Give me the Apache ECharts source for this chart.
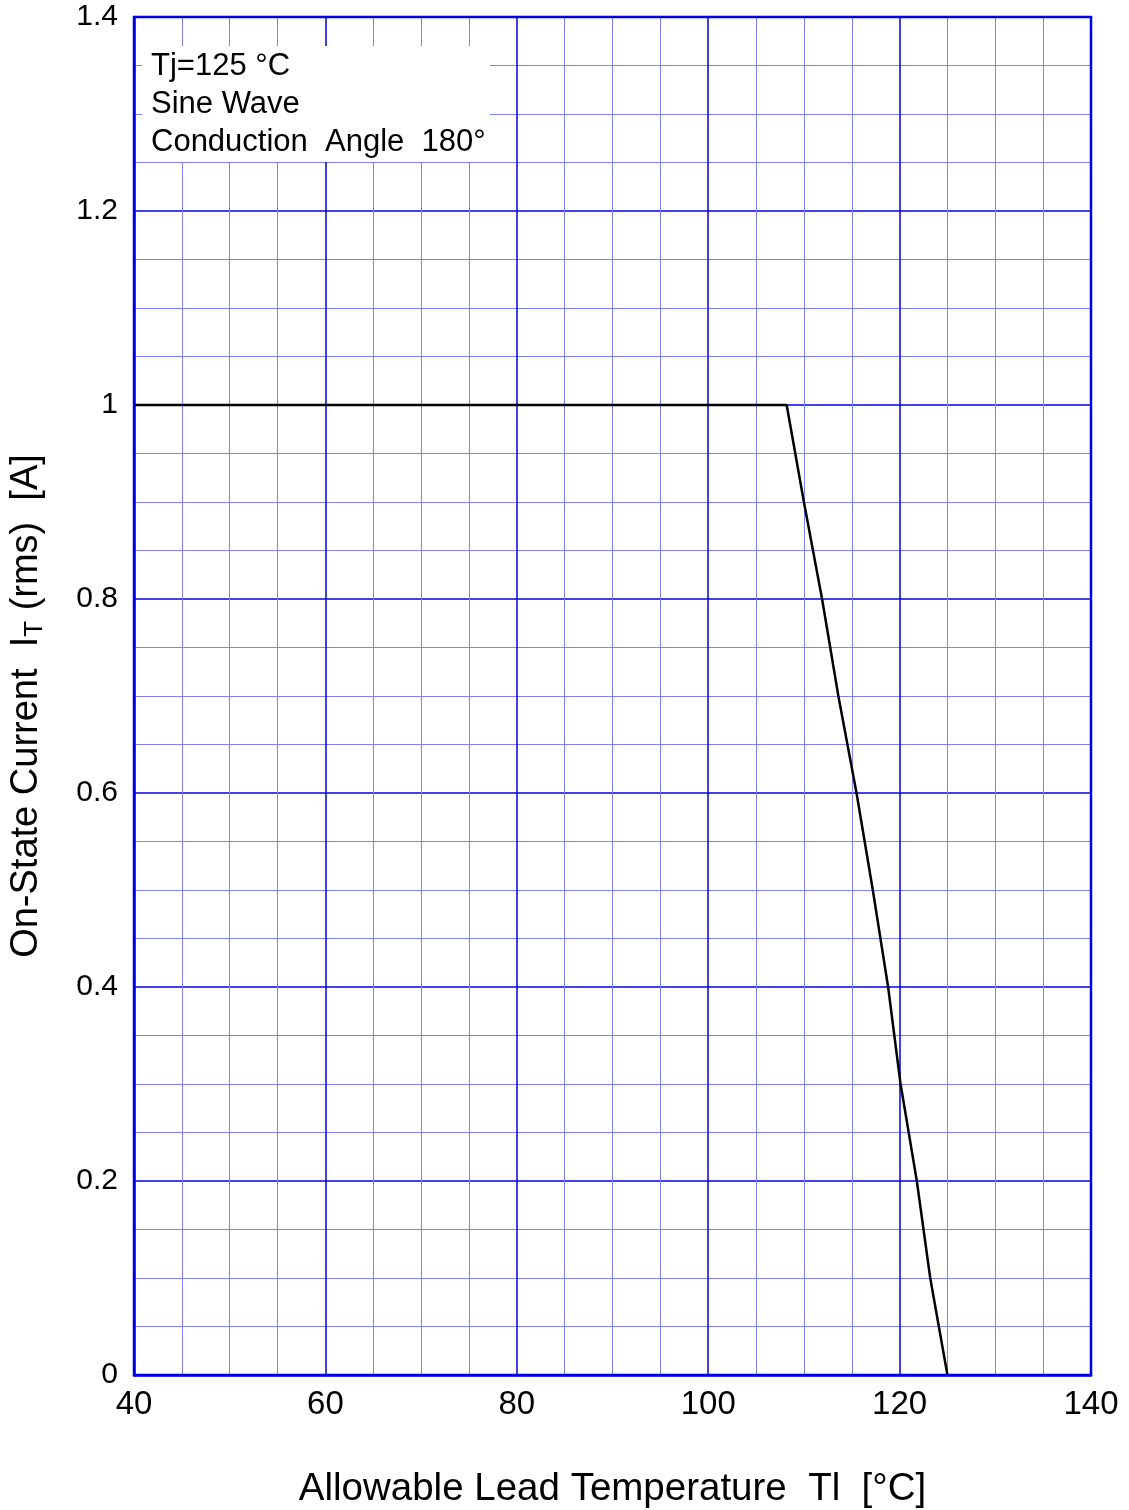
<!DOCTYPE html>
<html>
<head>
<meta charset="utf-8">
<script src="https://cdn.jsdelivr.net/npm/echarts@6/dist/echarts.min.js"></script>
<style>
    html, body {margin: 0; padding: 0; background: #fff;}
    #chart {width: 1129px; height: 1510px;}
</style>
</head>
<body>
<div id="chart"></div>
<script>
    // derating curve
    var temps = [40, 108.2, 110, 111.9, 113.6, 115.5, 117.2, 118.8, 120.1, 121.8, 123.2, 125];
    var currents = [1, 1, 0.9, 0.8, 0.7, 0.6, 0.5, 0.4, 0.3, 0.2, 0.1, 0];
    var noteLines = ["Tj=125 °C", "Sine Wave", "Conduction  Angle  180°"];

    var majorColor = "#0000e6";
    var minorColor = "#8080ff";

    var chart = echarts.init(document.getElementById("chart"));

    var points = [];
    for (var i = 0; i < temps.length; i++) {
        points.push([temps[i], currents[i]]);
    }

    var option = {
        animation: false,
        backgroundColor: "#fff",
        grid: {left: 134, right: 38, top: 17, bottom: 135, containLabel: false, outerBoundsMode: "none"},
        xAxis: {
            type: "value",
            min: 40,
            max: 140,
            interval: 20,
            name: "Allowable Lead Temperature  Tl  [°C]",
            nameLocation: "middle",
            nameGap: 95,
            nameTextStyle: {fontFamily: "Liberation Sans", fontSize: 38.5, color: "#000"},
            axisLine: {show: true, lineStyle: {color: majorColor, width: 2.5}},
            axisTick: {show: false},
            axisLabel: {fontFamily: "Liberation Sans", fontSize: 33, color: "#000", margin: 13},
            splitLine: {show: true, lineStyle: {color: majorColor, width: 1.5}},
            minorTick: {show: false, splitNumber: 4},
            minorSplitLine: {show: true, lineStyle: {color: minorColor, width: 1}}
        },
        yAxis: {
            type: "value",
            min: 0,
            max: 1.4,
            interval: 0.2,
            name: "{n|On-State Current  I}{s|T}{n| (rms)  [A]}",
            nameLocation: "middle",
            nameGap: 86,
            nameRotate: 90,
            nameTextStyle: {
                color: "#000",
                padding: [0, 20, 0, 0],
                rich: {
                    n: {fontFamily: "Liberation Sans", fontSize: 38, color: "#000"},
                    s: {fontFamily: "Liberation Sans", fontSize: 26, color: "#000", verticalAlign: "bottom", padding: [16, 0, 0, 0]}
                }
            },
            axisLine: {show: true, lineStyle: {color: majorColor, width: 2.5}},
            axisTick: {show: false},
            axisLabel: {fontFamily: "Liberation Sans", fontSize: 30, color: "#000", margin: 16, padding: [6, 0, 0, 0]},
            splitLine: {show: true, lineStyle: {color: majorColor, width: 1.5}},
            minorTick: {show: false, splitNumber: 4},
            minorSplitLine: {show: true, lineStyle: {color: minorColor, width: 1}}
        },
        graphic: [
            {
                type: "rect",
                shape: {x: 142, y: 46, width: 348, height: 116},
                style: {fill: "#fff"},
                z: 50
            },
            {
                type: "text",
                left: 151,
                top: 47,
                z: 51,
                style: {
                    text: noteLines.join("\n"),
                    fontFamily: "Liberation Sans",
                    fontSize: 31,
                    lineHeight: 38,
                    fill: "#000"
                }
            },
            {
                // frame redrawn above the note box
                type: "rect",
                shape: {x: 134, y: 17, width: 957, height: 1358},
                style: {fill: "none", stroke: majorColor, lineWidth: 2.5},
                z: 52
            }
        ],
        series: [
            {
                type: "line",
                data: points,
                symbol: "none",
                smooth: false,
                lineStyle: {color: "#000", width: 2.5},
                z: 10
            }
        ]
    };

    chart.setOption(option);
</script>
</body>
</html>
